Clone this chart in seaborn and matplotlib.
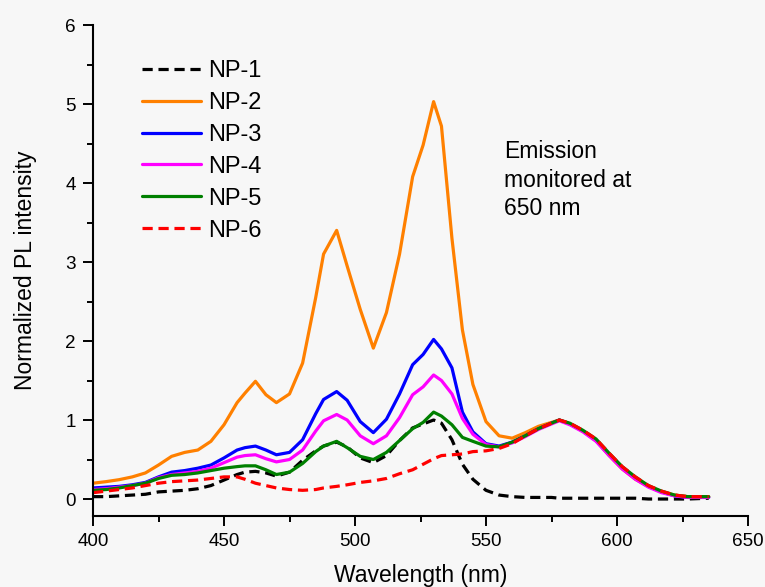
import matplotlib
matplotlib.use("Agg")
import matplotlib.pyplot as plt
import seaborn as sns
import numpy as np
from matplotlib.ticker import MultipleLocator

wavelength = [400, 405, 410, 415, 420, 425, 430, 435, 440, 445, 450, 455,
              458, 462, 466, 470, 475, 480, 485, 488, 493, 497,
              502, 507, 512, 517, 522, 526, 530, 533, 537, 541, 545,
              550, 555, 560, 565, 570, 575,
              578, 582, 587, 592, 597, 602, 607, 612, 617, 622, 627, 635]

np1 = [0.03, 0.03, 0.04, 0.05, 0.06, 0.09, 0.10, 0.11, 0.13, 0.17, 0.24, 0.31,
       0.34, 0.35, 0.33, 0.29, 0.34, 0.49, 0.61, 0.67, 0.72, 0.66,
       0.52, 0.46, 0.55, 0.74, 0.90, 0.95, 1.00, 0.96, 0.75, 0.44, 0.25,
       0.11, 0.05, 0.03, 0.02, 0.02, 0.02,
       0.01, 0.01, 0.01, 0.01, 0.01, 0.01, 0.01, 0.00, 0.00, 0.00, 0.00, 0.01]
np2 = [0.20, 0.22, 0.245, 0.28, 0.33, 0.43, 0.54, 0.59, 0.62, 0.73, 0.94, 1.22,
       1.34, 1.49, 1.32, 1.22, 1.33, 1.72, 2.55, 3.10, 3.40, 2.95,
       2.40, 1.91, 2.36, 3.10, 4.08, 4.48, 5.03, 4.72, 3.30, 2.14, 1.45,
       0.98, 0.80, 0.77, 0.84, 0.92, 0.97,
       1.00, 0.95, 0.86, 0.74, 0.55, 0.38, 0.25, 0.16, 0.09, 0.05, 0.03, 0.03]
np3 = [0.14, 0.15, 0.16, 0.18, 0.21, 0.28, 0.34, 0.36, 0.39, 0.43, 0.52, 0.62,
       0.65, 0.67, 0.62, 0.56, 0.59, 0.75, 1.08, 1.26, 1.36, 1.25,
       0.98, 0.84, 1.01, 1.33, 1.70, 1.83, 2.02, 1.90, 1.66, 1.10, 0.85,
       0.70, 0.67, 0.72, 0.80, 0.89, 0.96,
       1.00, 0.95, 0.86, 0.74, 0.56, 0.39, 0.26, 0.16, 0.09, 0.04, 0.02, 0.02]
np4 = [0.12, 0.13, 0.15, 0.17, 0.20, 0.27, 0.31, 0.33, 0.35, 0.39, 0.46, 0.53,
       0.55, 0.56, 0.51, 0.47, 0.50, 0.62, 0.86, 0.99, 1.07, 1.00,
       0.80, 0.70, 0.80, 1.03, 1.32, 1.42, 1.57, 1.50, 1.33, 1.02, 0.82,
       0.69, 0.66, 0.71, 0.79, 0.88, 0.95,
       0.99, 0.94, 0.85, 0.73, 0.55, 0.38, 0.25, 0.15, 0.08, 0.04, 0.02, 0.02]
np5 = [0.11, 0.12, 0.14, 0.17, 0.20, 0.26, 0.30, 0.31, 0.33, 0.36, 0.39, 0.41,
       0.42, 0.42, 0.37, 0.31, 0.34, 0.45, 0.60, 0.67, 0.73, 0.65,
       0.54, 0.50, 0.59, 0.74, 0.89, 0.97, 1.10, 1.05, 0.94, 0.78, 0.73,
       0.67, 0.66, 0.72, 0.80, 0.89, 0.96,
       1.00, 0.96, 0.87, 0.76, 0.58, 0.41, 0.28, 0.17, 0.10, 0.05, 0.03, 0.03]
np6 = [0.08, 0.10, 0.12, 0.14, 0.17, 0.20, 0.22, 0.23, 0.24, 0.26, 0.28, 0.28,
       0.25, 0.20, 0.17, 0.14, 0.12, 0.11, 0.12, 0.14, 0.16, 0.18,
       0.21, 0.23, 0.26, 0.32, 0.37, 0.44, 0.51, 0.55, 0.56, 0.57, 0.60,
       0.61, 0.64, 0.70, 0.80, 0.89, 0.96,
       1.00, 0.96, 0.87, 0.76, 0.58, 0.41, 0.28, 0.17, 0.10, 0.05, 0.03, 0.03]

labels = ["NP-1", "NP-2", "NP-3", "NP-4", "NP-5", "NP-6"]
series = [np1, np2, np3, np4, np5, np6]
colors = ["#000000", "#FF8000", "#0000FF", "#FF00FF", "#008000", "#FF0000"]
dashed = [True, False, False, False, False, True]

sns.set_style("ticks")
plt.rcParams["font.family"] = ["Liberation Sans", "DejaVu Sans"]
plt.rcParams["text.color"] = "black"
plt.rcParams["axes.labelcolor"] = "black"
plt.rcParams["xtick.color"] = "black"
plt.rcParams["ytick.color"] = "black"

fig = plt.figure(figsize=(7.65, 5.87), dpi=100, facecolor="#f7f7f7")
ax = fig.add_axes([93 / 765, 71 / 587, 655 / 765, 491 / 587])
ax.set_facecolor("#f7f7f7")

for lab, vals, col, dsh in zip(labels, series, colors, dashed):
    kw = dict(dashes=(3.2, 1.8)) if dsh else {}
    sns.lineplot(x=wavelength, y=vals, ax=ax, color=col, lw=2.3,
                 label=lab, **kw)

ax.set_xlim(400, 650)
ax.set_ylim(-0.215, 6)
ax.xaxis.set_major_locator(MultipleLocator(50))
ax.xaxis.set_minor_locator(MultipleLocator(25))
ax.yaxis.set_major_locator(MultipleLocator(1))
ax.yaxis.set_minor_locator(MultipleLocator(0.5))
ax.tick_params(which="major", length=7.5, width=1.4, labelsize=13.6, pad=5,
               color="black", labelcolor="black")
ax.tick_params(which="minor", length=4, width=1.4, color="black")
for s in ["top", "right"]:
    ax.spines[s].set_visible(False)
for s in ["left", "bottom"]:
    ax.spines[s].set_linewidth(1.5)
    ax.spines[s].set_color("black")

ax.set_xlabel("Wavelength (nm)", fontsize=16.5, labelpad=10, color="black")
ax.set_ylabel("Normalized PL intensity", fontsize=16.5, labelpad=20, color="black")

leg = ax.legend(loc="upper left", bbox_to_anchor=((142 - 93) / 655, (516 - 60) / 491),
                frameon=False, fontsize=17, handlelength=2.5, handletextpad=0.3,
                labelspacing=0.42, borderpad=0, borderaxespad=0)
for t in leg.get_texts():
    t.set_color("black")

ax.text(556.9, 4.54, "Emission\nmonitored at\n650 nm", fontsize=16.5, va="top", ha="left",
        linespacing=1.3, color="black")

fig.savefig("out.png", dpi=100, facecolor=fig.get_facecolor())
